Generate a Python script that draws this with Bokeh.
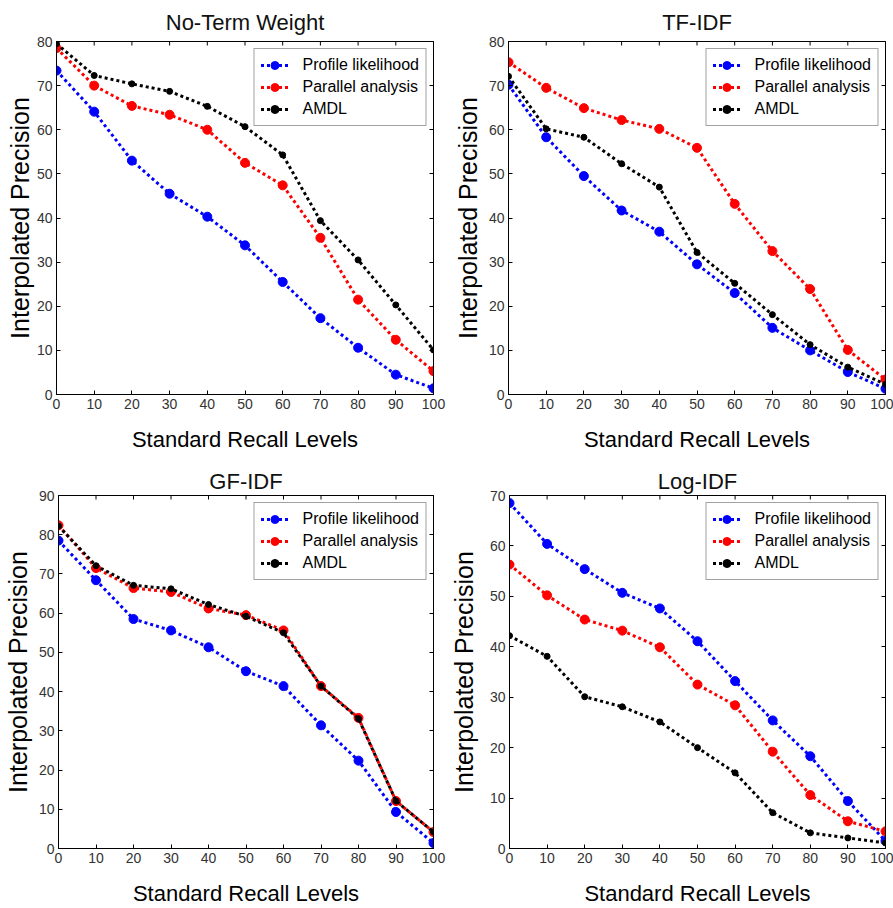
import math
from bokeh.plotting import figure
from bokeh.models import Range1d, LinearAxis, Legend, LegendItem
from bokeh.layouts import column, row
from bokeh.embed import file_html
from bokeh.resources import INLINE

recall_levels = [0, 10, 20, 30, 40, 50, 60, 70, 80, 90, 100]
series_names = ["Profile likelihood", "Parallel analysis", "AMDL"]

# No-Term Weight
noterm_profile = [73.4, 64.1, 53.0, 45.5, 40.3, 33.8, 25.5, 17.3, 10.6, 4.5, 1.4]
noterm_parallel = [78.5, 70.0, 65.4, 63.4, 60.0, 52.5, 47.4, 35.5, 21.5, 12.4, 5.3]
noterm_amdl = [79.5, 72.3, 70.4, 68.7, 65.3, 60.7, 54.3, 39.4, 30.5, 20.3, 10.1]

# TF-IDF
tfidf_profile = [70.2, 58.3, 49.5, 41.7, 36.9, 29.5, 23.0, 15.1, 10.0, 5.1, 1.3]
tfidf_parallel = [75.3, 69.5, 64.9, 62.2, 60.2, 55.9, 43.2, 32.5, 23.9, 10.1, 3.4]
tfidf_amdl = [72.1, 60.2, 58.3, 52.3, 47.0, 32.2, 25.2, 18.1, 11.3, 6.2, 2.3]

# GF-IDF
gfidf_profile = [78.5, 68.4, 58.5, 55.6, 51.3, 45.2, 41.4, 31.4, 22.4, 9.3, 1.4]
gfidf_parallel = [82.4, 71.5, 66.4, 65.4, 61.2, 59.5, 55.6, 41.4, 33.3, 12.1, 4.2]
gfidf_amdl = [82.2, 72.1, 67.1, 66.2, 62.2, 59.2, 55.0, 41.4, 33.1, 12.1, 4.2]

# Log-IDF
logidf_profile = [68.5, 60.4, 55.4, 50.7, 47.6, 41.1, 33.2, 25.4, 18.3, 9.4, 1.5]
logidf_parallel = [56.3, 50.2, 45.4, 43.2, 39.9, 32.5, 28.4, 19.2, 10.6, 5.4, 3.4]
logidf_amdl = [42.2, 38.1, 30.1, 28.1, 25.1, 20.0, 15.0, 7.1, 3.1, 2.1, 1.1]

x_ticks = [0, 10, 20, 30, 40, 50, 60, 70, 80, 90, 100]

COLORS = ["#0000ff", "#ff0000", "#000000"]
MSIZES = [9, 9, 6]
FONT = "Liberation Sans"
TICKFONT = "'Liberation Sans Narrow', 'Liberation Sans'"


def style_axis(ax, show_labels=True):
    ax.axis_line_color = "black"
    ax.axis_line_width = 1
    ax.major_tick_in = 4
    ax.major_tick_out = 0
    ax.major_tick_line_color = "black"
    ax.minor_tick_line_color = None
    if show_labels:
        ax.major_label_text_font = TICKFONT
        ax.major_label_text_font_size = "14px"
        ax.major_label_text_color = "#333333"
        ax.major_label_standoff = 4
    else:
        ax.major_label_text_font_size = "1px"
        ax.major_label_text_color = None
        ax.major_label_standoff = 0
        ax.axis_label_standoff = 0


def make_panel(title, ymax, ys, width, height, bl, br, bt, bb,
               title_standoff, ylabel_standoff):
    p = figure(width=width, height=height, output_backend="svg",
               toolbar_location=None,
               x_range=Range1d(0, 100), y_range=Range1d(0, ymax),
               min_border_left=bl, min_border_right=br,
               min_border_top=bt, min_border_bottom=bb)
    p.title.text = title
    p.title.align = "center"
    p.title.text_font = FONT
    p.title.text_font_size = "22px"
    p.title.text_font_style = "normal"
    p.title.text_color = "#111111"
    p.title.standoff = title_standoff
    p.outline_line_color = "black"
    p.xgrid.visible = False
    p.ygrid.visible = False
    yt = list(range(0, ymax + 1, 10))

    p.xaxis.ticker = x_ticks
    p.yaxis.ticker = yt
    for ax in p.xaxis + p.yaxis:
        style_axis(ax)
    p.xaxis.axis_label = "Standard Recall Levels"
    p.yaxis.axis_label = "Interpolated Precision"
    for ax in p.xaxis + p.yaxis:
        ax.axis_label_text_font = FONT
        ax.axis_label_text_font_style = "normal"
        ax.axis_label_text_color = "black"
    p.xaxis.axis_label_text_font_size = "22px"
    p.yaxis.axis_label_text_font_size = "25px"
    p.xaxis.axis_label_standoff = 15
    p.yaxis.axis_label_standoff = ylabel_standoff

    # mirrored tick marks along the top edge (MATLAB box style)
    p.scatter(x_ticks, [ymax] * len(x_ticks), marker="dash", angle=math.pi / 2,
              size=8, line_color="black", line_width=1)
    right = LinearAxis(ticker=yt)
    style_axis(right, show_labels=False)
    p.add_layout(right, "right")

    items = []
    for name, yv, c, ms in zip(series_names, ys, COLORS, MSIZES):
        ln = p.line(recall_levels, yv, line_color=c, line_width=3, line_dash="3 3")
        sc = p.scatter(recall_levels, yv, marker="circle", size=ms,
                       fill_color=c, line_color=c)
        items.append(LegendItem(label=name, renderers=[ln, sc]))
    leg = Legend(items=items, location="top_right")
    leg.margin = 7
    leg.padding = 6
    leg.spacing = 2
    leg.glyph_width = 28
    leg.glyph_height = 20
    leg.label_height = 20
    leg.label_standoff = 14
    leg.label_text_font = FONT
    leg.label_text_font_size = "16px"
    leg.label_text_color = "black"
    leg.border_line_color = "#444444"
    leg.border_line_width = 1.5
    leg.background_fill_color = "white"
    leg.background_fill_alpha = 1
    p.add_layout(leg, "center")
    return p


p1 = make_panel("No-Term Weight", 80, [noterm_profile, noterm_parallel, noterm_amdl],
                446, 454, 56, 13, 41, 60, 14, 0)
p2 = make_panel("TF-IDF", 80, [tfidf_profile, tfidf_parallel, tfidf_amdl],
                447, 454, 62, 8, 41, 60, 14, 4)
p3 = make_panel("GF-IDF", 90, [gfidf_profile, gfidf_parallel, gfidf_amdl],
                446, 454, 56, 13, 41, 60, 3, 4)
p4 = make_panel("Log-IDF", 70, [logidf_profile, logidf_parallel, logidf_amdl],
                447, 454, 62, 8, 41, 60, 3, 9)

layout = column(row(p1, p2), row(p3, p4))

with open("out.html", "w") as f:
    f.write(file_html(layout, INLINE))
